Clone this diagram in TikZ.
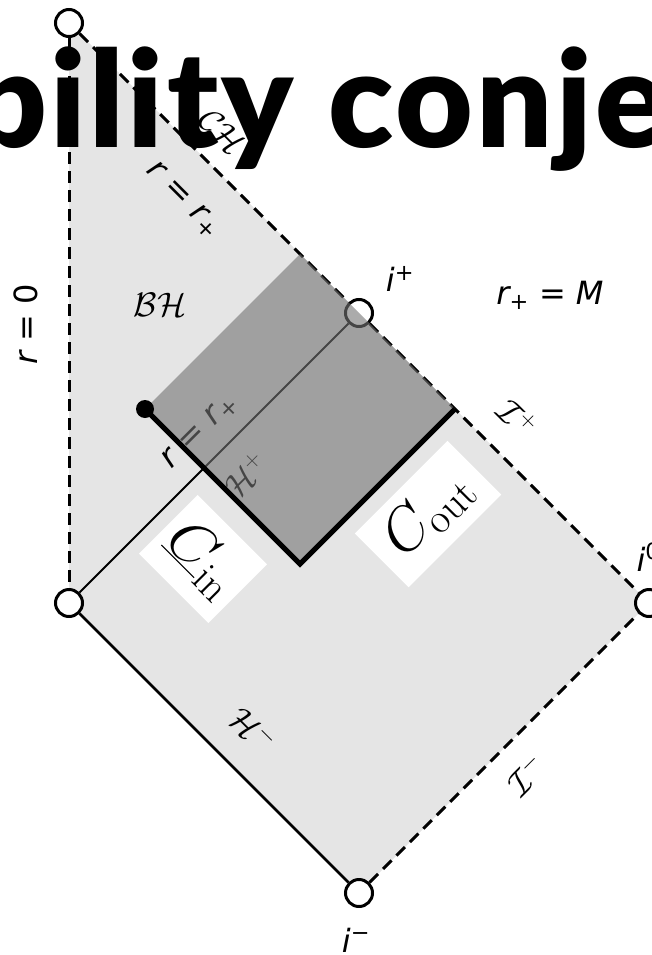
\RequirePackage{fix-cm}
\documentclass[tikz,border=0pt]{standalone}
\usepackage{fontspec}
\usepackage{amsmath}
\newfontfamily\lblfont{DejaVu Sans}
\newfontfamily\titlefont{Lato Black}[LetterSpace=2.5]
\definecolor{regiongray}{HTML}{E5E5E5}
\definecolor{shadegray}{HTML}{737373}

\begin{document}
\begin{tikzpicture}[x=1pt,y=-1pt,
  hole/.style={draw,circle,fill=white,line width=3pt,minimum size=27pt,inner sep=0pt},
  nullinf/.style={line width=3pt,dash pattern=on 12pt off 7pt},
  sans/.style={font=\lblfont\fontsize{32}{38}\selectfont},
  cal/.style={font=\fontsize{34}{40}\selectfont},
  cbox/.style={fill=white,inner sep=0pt,font=\fontsize{60}{66}\selectfont}]
\useasboundingbox (0,0) rectangle (651,955);
\coordinate (a) at (69,23);
\coordinate (l) at (69,603);
\coordinate (b) at (359,893);
\coordinate (r) at (649,603);
\coordinate (p) at (359,313);
\coordinate (t) at (300,254);
\coordinate (q) at (455,409);
\coordinate (e) at (300,564);
\coordinate (d) at (145,409);
\fill[regiongray] (a) -- (r) -- (b) -- (l) -- cycle;
\node[hole] (top) at (a) {};
\node[hole] (left) at (l) {};
\node[hole] (bottom) at (b) {};
\node[hole] (right) at (r) {};
\node[hole] (iplus) at (p) {};
\draw[nullinf] (top) -- (left);
\draw[nullinf] (top) -- (iplus);
\draw[nullinf] (iplus) -- (right);
\draw[nullinf] (bottom) -- (right);
\draw[line width=2.5pt] (left) -- (bottom);
\draw[line width=2pt] (left) -- (iplus);
\node[sans,rotate=90] (rzero) at (26,324) {{\itshape r} = 0};
\node[cal,rotate=-45] (ch) at (222,132) {$\mathcal{CH}$};
\node[sans,rotate=-45] (rrtop) at (183,200) {{\itshape r} = {\itshape r}\textsubscript{+}};
\node[cal] (bh) at (160,305) {$\mathcal{BH}$};
\node[sans] (iplab) at (400,279) {{\itshape i}\textsuperscript{+}};
\node[sans] (rplus) at (550,295) {{\itshape r}\textsubscript{+} = {\itshape M}};
\node[cal,rotate=-45] (scriplus) at (517,418) {$\mathcal{I}^+$};
\node[sans,rotate=45] (rrlow) at (200,432) {{\itshape r} = {\itshape r}\textsubscript{+}};
\node[cal,rotate=45] (hplus) at (246,475) {$\mathcal{H}^+$};
\node[cal,rotate=-45] (hminus) at (253,729) {$\mathcal{H}^-$};
\node[cal,rotate=45] (scriminus) at (526,775) {$\mathcal{I}^-$};
\node[sans] (imlab) at (356,940) {{\itshape i}\textsuperscript{−}};
\node[sans,anchor=west] (izlab) at (633,557) {{\itshape i}\textsuperscript{0}};
\node[cbox,rotate=-45,minimum width=98pt,minimum height=83pt] (cin) at (203,559) {$\underline{C}_{\mathrm{in}}$};
\node[cbox,rotate=45,minimum width=131pt,minimum height=76pt] (cout) at (428,514) {$C_{\mathrm{out}}$};
\fill[shadegray,fill opacity=0.6] (d) -- (t) -- (q) -- (e) -- cycle;
\node[circle,fill,inner sep=0pt,minimum size=18pt] (dot) at (d) {};
\draw[line width=5pt] (dot.center) -- (e) -- (q);
\node[anchor=base west,inner sep=0pt,font=\titlefont\fontsize{134}{140}\selectfont] (title) at (-30,147) {bility conje};
\end{tikzpicture}
\end{document}
